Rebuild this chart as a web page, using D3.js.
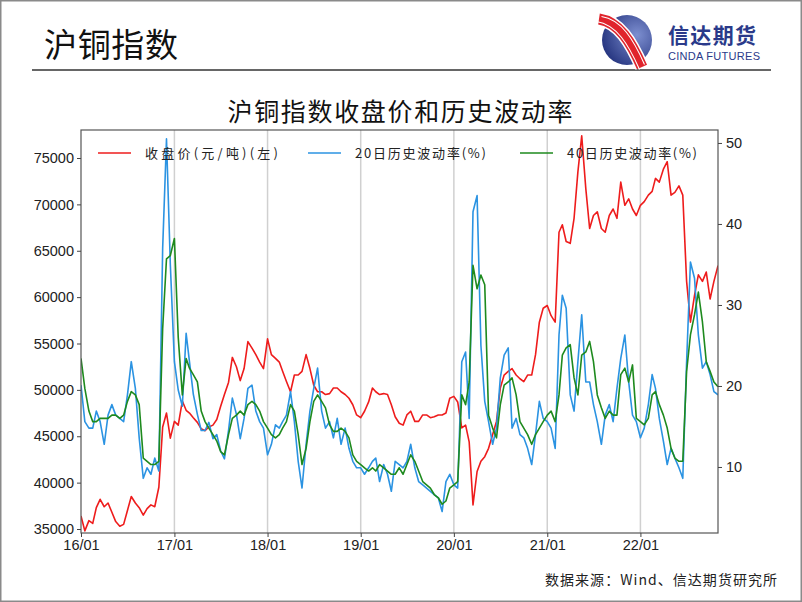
<!DOCTYPE html>
<html>
<head>
<meta charset="utf-8">
<script src="https://cdn.jsdelivr.net/npm/d3@7"></script>
<style>
  body { margin: 0; background: #fff; }
  svg text { font-family: "Liberation Sans", Arial, sans-serif; }
  .cjk { font-family: "Noto Sans CJK SC", sans-serif; }
</style>
</head>
<body>
<div id="chart"></div>
<script>
// semi-monthly samples (1st and 16th), 2016-01 .. 2022-11-01
var startDate = "2016-01-01";
var nPoints = 165;

// 收盘价 (元/吨), left axis
var closePrice = [
  36400, 34800, 35900, 35600, 37300, 38200, 37400, 37800, 36800, 35800,
  35300, 35500, 37000, 38500, 37800, 37300, 36500, 37200, 37600, 37400,
  39500, 46000, 47500, 44800, 46600, 46200, 48800, 47800, 47500, 47000,
  46500, 45800, 45600, 46000, 46200, 46800, 48200, 49500, 50800, 53500,
  52500, 51000, 52300, 55200, 54500, 53800, 53000, 52300, 55500, 53800,
  53400, 53000, 52000, 50900, 49800, 51600, 51600, 52000, 53800, 52300,
  50500, 49800, 49800, 49500, 49600, 50200, 50200, 49800, 49500, 49100,
  48400, 47300, 47000, 47700, 48700, 50200, 49800, 49500, 49600, 49500,
  48400, 47100, 46400, 46200, 47300, 47700, 46600, 46600, 47300, 47300,
  47000, 47100, 47300, 47300, 47500, 49100, 49300, 48700, 45900, 46200,
  44400, 37600, 41200, 42300, 42800, 43700, 45200, 46600, 50200, 51600,
  52000, 52300, 51600, 51200, 50900, 51600, 51600, 53800, 57300, 58800,
  59100, 58000, 57300, 67000, 67800, 66000, 65800, 68500, 73500, 77400,
  71700, 67400, 68800, 69200, 67400, 67000, 68800, 69500, 68500, 72400,
  69900, 70600, 69500, 68800, 69900, 70300, 71000, 71400, 72800, 72400,
  73800, 74600, 71000, 71300, 72000, 71000, 61700, 57300, 60200, 62400,
  61700, 62700, 59800, 61700, 63400
];

// 20日历史波动率 (%), right axis
var vol20 = [
  20.1, 15.6, 14.8, 14.8, 16.9, 15.6, 12.8, 16.4, 17.7, 16.4,
  16.0, 15.6, 18.9, 23.0, 19.7, 13.6, 8.6, 9.9, 9.1, 11.1,
  9.5, 37.0, 50.5, 35.0, 23.0, 19.5, 17.5, 26.5, 23.0, 19.0,
  16.5, 14.5, 14.5, 15.5, 13.5, 14.0, 12.0, 11.0, 14.5, 18.5,
  16.5, 13.5, 16.0, 19.7, 20.1, 16.9, 15.6, 14.8, 11.5, 12.8,
  15.2, 14.8, 15.6, 16.4, 19.3, 15.6, 10.7, 7.4, 12.8, 16.9,
  19.7, 22.2, 16.9, 14.8, 15.6, 13.6, 16.0, 12.8, 14.8, 12.3,
  10.7, 9.9, 9.9, 9.1, 9.9, 10.7, 11.1, 8.2, 10.3, 9.1,
  7.0, 10.7, 10.3, 9.9, 10.7, 12.8, 9.9, 8.2, 7.8, 7.4,
  7.0, 6.6, 6.2, 4.5, 8.2, 9.1, 7.8, 7.4, 23.0, 24.2,
  16.0, 41.5, 43.5, 25.0, 18.1, 15.6, 12.8, 14.8, 21.0, 23.8,
  24.7, 14.8, 16.0, 14.0, 13.6, 12.3, 10.3, 14.0, 18.1, 16.0,
  15.6, 14.8, 12.3, 26.3, 31.2, 29.6, 18.9, 16.9, 23.0, 28.8,
  20.5, 20.5, 17.7, 15.6, 12.8, 16.4, 17.7, 15.6, 19.7, 23.4,
  26.3, 20.5, 16.4, 15.6, 13.6, 14.8, 17.7, 21.4, 19.7, 16.0,
  13.2, 10.3, 12.3, 11.1, 9.9, 8.6, 23.0, 35.3, 33.3, 26.3,
  22.2, 23.0, 21.4, 19.3, 18.9
];

// 40日历史波动率 (%), right axis
var vol40 = [
  23.4, 19.7, 16.9, 15.6, 15.6, 16.0, 16.0, 16.0, 16.4, 16.4,
  16.0, 16.4, 18.1, 19.3, 18.9, 17.7, 11.1, 10.7, 10.3, 10.3,
  10.7, 27.1, 35.7, 36.1, 38.2, 26.0, 18.9, 23.4, 22.2, 21.4,
  20.5, 16.9, 15.6, 14.8, 14.0, 13.2, 11.9, 11.5, 14.0, 16.0,
  16.4, 16.9, 16.4, 17.7, 18.1, 17.7, 16.9, 15.6, 14.8, 14.0,
  13.6, 14.0, 14.8, 15.6, 17.7, 16.9, 14.0, 10.3, 12.3, 15.6,
  18.1, 18.9, 18.1, 17.3, 15.2, 14.4, 14.4, 14.8, 14.4, 13.6,
  11.5, 10.7, 10.3, 9.9, 9.5, 9.9, 9.5, 10.3, 9.9, 9.5,
  9.1, 9.1, 9.9, 9.1, 10.3, 11.5, 10.7, 9.5, 8.2, 7.8,
  7.4, 6.6, 6.2, 5.4, 5.8, 7.4, 7.8, 8.2, 18.9, 17.7,
  20.5, 34.9, 32.0, 33.7, 32.5, 16.4, 14.8, 13.6, 17.7, 20.1,
  20.5, 21.0, 18.9, 15.6, 14.8, 14.0, 12.8, 14.0, 14.8, 15.6,
  16.4, 16.9, 15.6, 18.9, 23.8, 24.7, 25.1, 21.0, 18.9, 23.8,
  24.2, 25.5, 23.0, 18.9, 17.3, 16.0, 16.9, 16.4, 16.4, 21.4,
  22.2, 20.5, 22.6, 16.0, 15.6, 15.2, 16.0, 18.9, 19.3, 17.7,
  16.4, 14.8, 12.3, 11.1, 10.7, 10.7, 21.8, 26.3, 28.8, 31.6,
  27.9, 23.0, 21.8, 20.5, 19.9
];

var xTickLabels = ["16/01", "17/01", "18/01", "19/01", "20/01", "21/01", "22/01"];
var leftTicks = [35000, 40000, 45000, 50000, 55000, 60000, 65000, 70000, 75000];
var rightTicks = [10, 20, 30, 40, 50];
var seriesNames = ["收盘价(元/吨)(左)", "20日历史波动率(%)", "40日历史波动率(%)"];
var seriesColors = ["#ee1c1c", "#2b93e2", "#1e8a1e"];

var W = 802, H = 602;
var plot = {left: 81, right: 718, top: 130, bottom: 533};

// dates for each sample
var t0 = d3.timeParse("%Y-%m-%d")(startDate);
var dates = [];
for (var i = 0; i < nPoints; i++) {
  var m = d3.timeMonth.offset(t0, Math.floor(i / 2));
  dates.push(i % 2 ? d3.timeDay.offset(m, 15) : m);
}

var svg = d3.select("#chart").append("svg")
  .attr("width", W).attr("height", H);

svg.append("rect").attr("x", 0.75).attr("y", 0.75)
  .attr("width", W - 1.5).attr("height", H - 1.5)
  .attr("fill", "#fff").attr("stroke", "#8a8a8a").attr("stroke-width", 1.5);

// header
svg.append("text").attr("class", "cjk")
  .attr("x", 44).attr("y", 57)
  .attr("font-size", 33).attr("fill", "#111")
  .attr("textLength", 134)
  .text("沪铜指数");

svg.append("line")
  .attr("x1", 32).attr("x2", 771).attr("y1", 70).attr("y2", 70)
  .attr("stroke", "#666").attr("stroke-width", 2);

// logo
var defs = svg.append("defs");
var grad = defs.append("radialGradient")
  .attr("id", "lg").attr("cx", "70%").attr("cy", "40%").attr("r", "80%");
grad.append("stop").attr("offset", "0%").attr("stop-color", "#7d8fd0");
grad.append("stop").attr("offset", "100%").attr("stop-color", "#1d2c78");
var logo = svg.append("g").attr("transform", "translate(627,40)");
logo.append("circle").attr("r", 25).attr("fill", "url(#lg)");
var ribbon = "M-28,-21 C-8,-18 4,2 15,27";
logo.append("path").attr("d", ribbon)
  .attr("fill", "none").attr("stroke", "#fff").attr("stroke-width", 14);
logo.append("path").attr("d", ribbon)
  .attr("fill", "none").attr("stroke", "#e0242c").attr("stroke-width", 11);
[-2.5, 2.5].forEach(function(o) {
  logo.append("path")
    .attr("d", "M" + (-28 + o) + "," + (-21 - o) + " C" + (-8 + o) + "," + (-18 - o) + " " + (4 + o) + "," + (2 - o) + " " + (15 + o) + "," + (27 - o))
    .attr("fill", "none").attr("stroke", "#fff").attr("stroke-width", 1.1);
});
svg.append("text").attr("class", "cjk")
  .attr("x", 668).attr("y", 43)
  .attr("font-size", 21).attr("font-weight", "bold").attr("fill", "#2a3a8a")
  .attr("textLength", 88)
  .text("信达期货");
svg.append("text")
  .attr("x", 668).attr("y", 60)
  .attr("font-size", 11).attr("fill", "#2a3a8a")
  .attr("textLength", 92)
  .text("CINDA FUTURES");

// chart title
svg.append("text").attr("class", "cjk")
  .attr("x", 400).attr("y", 121).attr("text-anchor", "middle")
  .attr("font-size", 25).attr("fill", "#111")
  .attr("textLength", 345)
  .text("沪铜指数收盘价和历史波动率");

// scales
var x = d3.scaleTime()
  .domain([dates[0], dates[dates.length - 1]])
  .range([plot.left, plot.right]);
var yL = d3.scaleLinear().domain([34570, 78020]).range([plot.bottom, plot.top]);
var yR = d3.scaleLinear().domain([1.85, 51.6]).range([plot.bottom, plot.top]);

var tickDates = xTickLabels.map(function(s) { return d3.timeParse("%y/%m")(s); });

// vertical grid
svg.append("g").selectAll("line").data(tickDates.slice(1)).enter().append("line")
  .attr("x1", function(d) { return x(d); }).attr("x2", function(d) { return x(d); })
  .attr("y1", plot.top).attr("y2", plot.bottom)
  .attr("stroke", "#d0d0d0").attr("stroke-width", 1.5);

svg.append("clipPath").attr("id", "clip").append("rect")
  .attr("x", plot.left).attr("y", plot.top)
  .attr("width", plot.right - plot.left).attr("height", plot.bottom - plot.top);

var lines = svg.append("g").attr("clip-path", "url(#clip)");
var series = [
  {vals: closePrice, y: yL},
  {vals: vol20, y: yR},
  {vals: vol40, y: yR}
];
series.forEach(function(s, j) {
  var line = d3.line()
    .x(function(d, i) { return x(dates[i]); })
    .y(function(d) { return s.y(d); });
  lines.append("path").datum(s.vals)
    .attr("d", line)
    .attr("fill", "none")
    .attr("stroke", seriesColors[j])
    .attr("stroke-width", 1.6)
    .attr("stroke-linejoin", "round");
});

// frame
svg.append("rect")
  .attr("x", plot.left).attr("y", plot.top)
  .attr("width", plot.right - plot.left).attr("height", plot.bottom - plot.top)
  .attr("fill", "none").attr("stroke", "#555").attr("stroke-width", 1.2);

// axes
var fmt = d3.timeFormat("%y/%m");
var xAxis = svg.append("g").attr("transform", "translate(0," + plot.bottom + ")")
  .call(d3.axisBottom(x).tickValues(tickDates).tickFormat(fmt).tickSize(4).tickPadding(3));
var lAxis = svg.append("g").attr("transform", "translate(" + plot.left + ",0)")
  .call(d3.axisLeft(yL).tickValues(leftTicks).tickFormat(d3.format("d")).tickSize(4).tickPadding(3));
var rAxis = svg.append("g").attr("transform", "translate(" + plot.right + ",0)")
  .call(d3.axisRight(yR).tickValues(rightTicks).tickSize(4).tickPadding(4));
[xAxis, lAxis, rAxis].forEach(function(a) {
  a.select(".domain").remove();
  a.selectAll("line").attr("stroke", "#444");
  a.selectAll("text").attr("font-size", 14.5).attr("fill", "#222")
    .attr("font-family", "'Liberation Sans', Arial, sans-serif");
});

// legend
var legendX = [98, 308, 520];
var legendTextW = [133, 131, 130];
var legend = svg.append("g");
seriesNames.forEach(function(name, j) {
  legend.append("line")
    .attr("x1", legendX[j]).attr("x2", legendX[j] + 33)
    .attr("y1", 153).attr("y2", 153)
    .attr("stroke", seriesColors[j]).attr("stroke-width", 1.6);
  legend.append("text").attr("class", "cjk")
    .attr("x", legendX[j] + 47).attr("y", 158)
    .attr("font-size", 13).attr("fill", "#222")
    .attr("textLength", legendTextW[j])
    .text(name);
});

// source
svg.append("text").attr("class", "cjk")
  .attr("x", 777).attr("y", 585).attr("text-anchor", "end")
  .attr("font-size", 14).attr("fill", "#222")
  .attr("textLength", 232)
  .text("数据来源：Wind、信达期货研究所");
</script>
</body>
</html>
